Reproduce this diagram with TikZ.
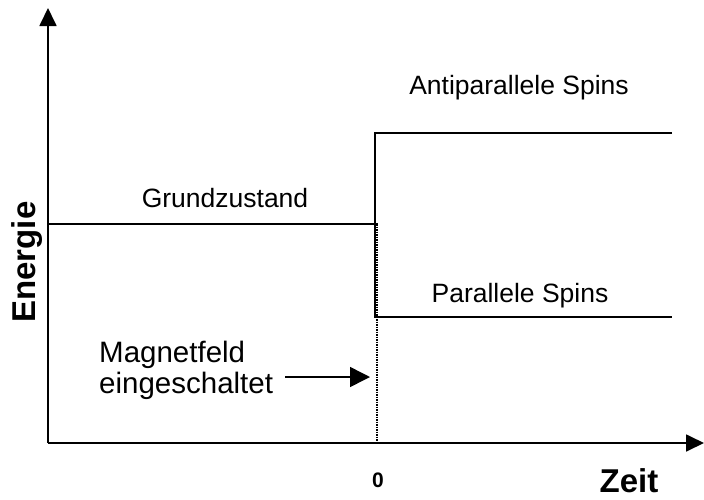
\documentclass[tikz,border=0pt]{standalone}
\usepackage{fontspec}
\setmainfont{Liberation Sans}
\usetikzlibrary{arrows.meta}
\begin{document}
\begin{tikzpicture}[x=1pt,y=-1pt,
  axis/.style={line width=1.8pt,-{Triangle[length=18pt,width=17pt]}},
  level/.style={line width=1.6pt},
  lbl/.style={font=\fontsize{26.5}{30}\selectfont,inner sep=0pt},
  blbl/.style={font=\bfseries\fontsize{26}{30}\selectfont,inner sep=0pt}]
\useasboundingbox (0,0) rectangle (704,499);
\coordinate (O) at (48,443);
\coordinate (ytop) at (48,8);
\coordinate (xend) at (704,443);
\draw[axis] (O) -- (ytop);
\draw[axis] (O) -- (xend);
\coordinate (g0) at (48,224);
\coordinate (g1) at (378,224);
\draw[level] (g0) -- (g1);
\coordinate (v0) at (375,133);
\coordinate (v1) at (375,317);
\coordinate (a1) at (672,133);
\coordinate (p1) at (672,317);
\draw[level] (a1) -- (v0) -- (v1) -- (p1);
\coordinate (d0) at (377,224);
\coordinate (d1) at (377,443);
\draw[line width=2pt,dash pattern=on 1.5pt off 1pt] (d0) -- (d1);
\node[lbl] (gz) at (225,198) {Grundzustand};
\node[lbl] (ap) at (519,88) {Antiparallele Spins};
\node[lbl] (ps) at (520,296) {Parallele Spins};
\node[lbl,align=left,anchor=west,font=\fontsize{29.5}{31}\selectfont] (mf) at (99,370) {Magnetfeld\\eingeschaltet};
\coordinate (m1) at (370,377);
\draw[line width=1.5pt,-{Triangle[length=20pt,width=20pt]}] (285,377) -- (m1);
\node[blbl,font=\bfseries\fontsize{21}{24}\selectfont] (zero) at (378,480) {0};
\node[blbl,font=\bfseries\fontsize{33}{36}\selectfont] (zeit) at (629,481) {Zeit};
\node[blbl,rotate=90,font=\bfseries\fontsize{33}{36}\selectfont] (en) at (27,262) {Energie};
\end{tikzpicture}
\end{document}
